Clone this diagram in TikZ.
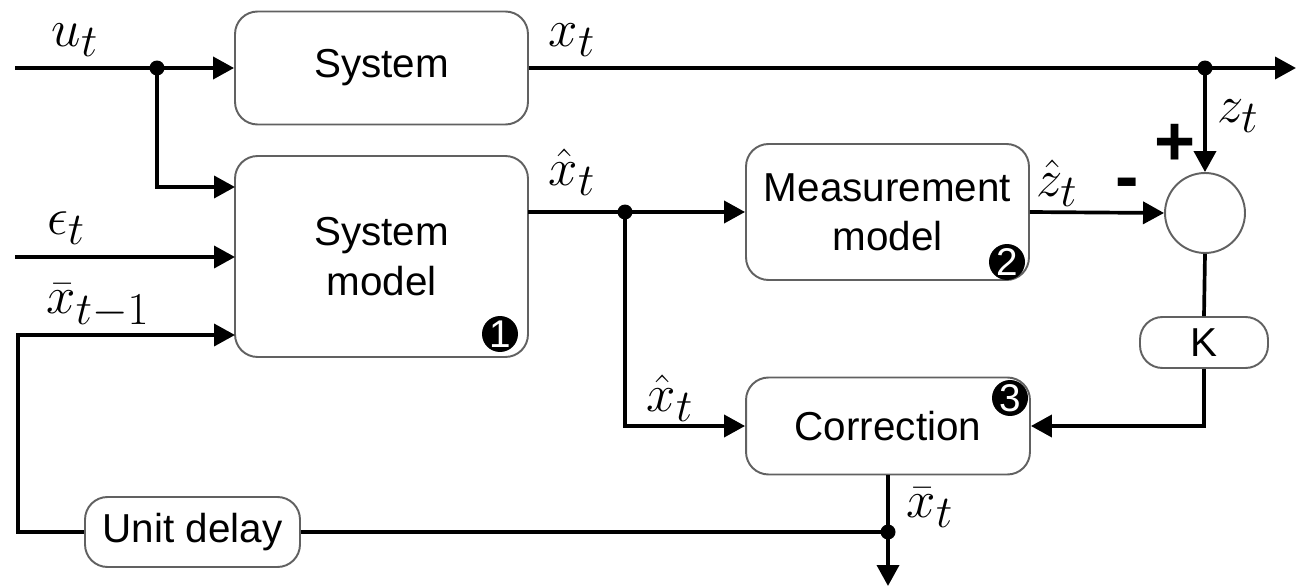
\RequirePackage{fix-cm}
\documentclass[tikz,border=0pt]{standalone}
\usepackage[no-math]{fontspec}
\setmainfont{Liberation Sans}
\usetikzlibrary{arrows.meta}
\DeclareMathSizes{30}{30}{26}{20}
\begin{document}
\begin{tikzpicture}[x=0.02cm,y=-0.02cm,
  box/.style={draw=black!62,line width=1.1pt,rounded corners=0.45cm,inner sep=0pt,
    align=center,font=\fontsize{23}{28}\selectfont},
  wire/.style={line width=2.1pt,black},
  arr/.style={wire,-{Triangle[length=0.42cm,width=0.44cm]}},
  dot/.style={circle,fill=black,inner sep=0pt,minimum size=0.3cm},
  badge/.style={circle,fill=black,text=white,inner sep=0pt,minimum size=0.72cm,
    font=\fontsize{22}{22}\selectfont},
  lbl/.style={inner sep=0pt,font=\fontsize{30}{32}\selectfont},
  sign/.style={inner sep=0pt,font=\fontsize{40}{40}\selectfont\bfseries}]
\useasboundingbox (0,0) rectangle (1296,588);

% blocks
\node[box,minimum width=5.86cm,minimum height=2.26cm] (sys) at (381.5,68) {System};
\node[box,minimum width=5.86cm,minimum height=4.02cm] (sm) at (381.5,256.5) {System\\model};
\node[box,minimum width=5.66cm,minimum height=2.72cm] (mm) at (887.5,212) {Measurement\\model};
\node[box,minimum width=5.68cm,minimum height=1.94cm] (cor) at (888,426) {Correction};
\node[box,minimum width=2.56cm,minimum height=1.02cm] (K) at (1204,342.5) {K};
\node[box,minimum width=4.3cm,minimum height=1.4cm] (ud) at (192.5,532) {Unit delay};
\node[circle,draw=black!62,line width=1.1pt,minimum size=1.6cm,inner sep=0pt] (sum) at (1205,213) {};

% numbered markers
\node[badge] (b1) at (500,334) {1};
\node[badge] (b2) at (1007,262) {2};
\node[badge] (b3) at (1010,398) {3};

% wire ends and branch points
\coordinate (uin) at (15,68);
\coordinate (ein) at (15,257);
\coordinate (sme) at (235,257);
\coordinate (smu) at (235,187);
\coordinate (xl) at (18,335);
\coordinate (smx) at (235,335);
\coordinate (smo) at (528,212);
\coordinate (xout) at (1296,68);
\coordinate (yout) at (888,586);
\node[dot] (j1) at (157,68) {};
\node[dot] (j2) at (1205,68) {};
\node[dot] (j3) at (625,212) {};
\node[dot] (j4) at (888,532) {};

% connectors
\draw[arr] (uin) -- (sys.west);
\draw[arr] (j1.center) |- (smu);
\draw[arr] (ein) -- (sme);
\draw[arr] (ud.west) -| (xl) -- (smx);
\draw[arr] (sys.east) -- (xout);
\draw[arr] (j2.center) -- (sum.north);
\draw[arr] (smo) -- (mm.west);
\draw[arr] (mm.east) -- (sum.west);
\draw[wire] (sum.south) -- (K.north);
\draw[arr] (K.south) |- (cor.east);
\draw[arr] (j3.center) |- (cor.west);
\draw[arr] (cor.south) -- (yout);
\draw[wire] (j4.center) -- (ud.east);

% signal labels
\node[lbl] (lu) at (75,40) {$u_t$};
\node[lbl] (lx) at (572,40) {$x_t$};
\node[lbl] (lxh) at (572,172) {$\hat{x}_t$};
\node[lbl] (le) at (66,228) {$\epsilon_t$};
\node[lbl] (lxb) at (98,306) {$\bar{x}_{t-1}$};
\node[lbl] (lzh) at (1057,183) {$\hat{z}_t$};
\node[lbl] (lz) at (1238,116) {$z_t$};
\node[lbl] (lxh2) at (670,398) {$\hat{x}_t$};
\node[lbl] (lxb2) at (930,508) {$\bar{x}_t$};
\node[sign] (plus) at (1175,145) {+};
\node[sign] (minus) at (1127,189) {-};
\end{tikzpicture}
\end{document}
